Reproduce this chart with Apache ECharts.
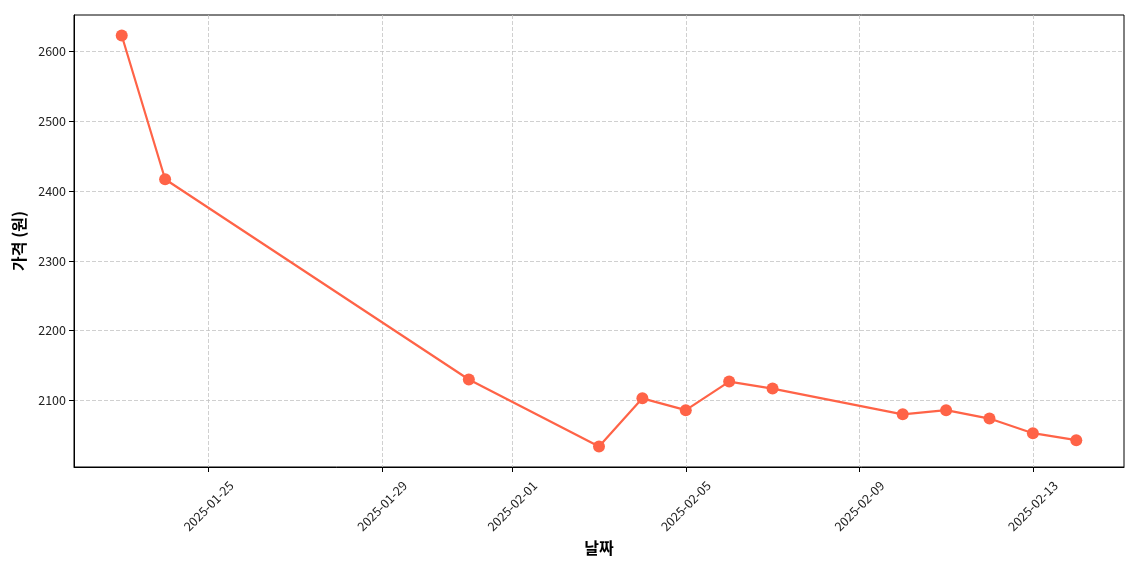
<!DOCTYPE html>
<html>
<head>
<meta charset="utf-8">
<script src="https://cdn.jsdelivr.net/npm/echarts@6/dist/echarts.min.js"></script>
<style>html,body{margin:0;padding:0;background:#fff}#c{width:1140px;height:570px}</style>
</head>
<body>
<div id="c"></div>
<script>
var dates = ['2025-01-23','2025-01-24','2025-01-31','2025-02-03','2025-02-04','2025-02-05','2025-02-06','2025-02-07','2025-02-10','2025-02-11','2025-02-12','2025-02-13','2025-02-14'];
var prices = [2623, 2417, 2130, 2034, 2103, 2086, 2127, 2117, 2080, 2086, 2074, 2053, 2043];
var xTicks = ['2025-01-25','2025-01-29','2025-02-01','2025-02-05','2025-02-09','2025-02-13'];
var yTicks = [2100, 2200, 2300, 2400, 2500, 2600];
var xTitle = '날짜';
var yTitle = '가격 (원)';

function ts(s){ return Date.parse(s + 'T00:00:00Z'); }
var tMin = ts(dates[0]), tMax = ts(dates[dates.length-1]);
var tPad = (tMax - tMin) * 0.05;
var pMin = Math.min.apply(null, prices), pMax = Math.max.apply(null, prices);
var pPad = (pMax - pMin) * 0.05;

function fmt(v){
  var d = new Date(v);
  var m = d.getUTCMonth()+1, dd = d.getUTCDate();
  return d.getUTCFullYear() + '-' + (m<10?'0':'') + m + '-' + (dd<10?'0':'') + dd;
}

var font = '"Noto Sans CJK KR", "Noto Sans", sans-serif';
var chart = echarts.init(document.getElementById('c'), null, {renderer:'canvas'});
chart.setOption({
  animation: false,
  grid: {left: 74, right: 16, top: 15, bottom: 103, show: true, borderColor: '#000', borderWidth: 1, containLabel: false},
  xAxis: {
    type: 'value',
    min: tMin - tPad, max: tMax + tPad,
    name: xTitle, nameLocation: 'middle', nameGap: 69,
    nameTextStyle: {fontFamily: font, fontSize: 16, fontWeight: 'bold', color: '#000'},
    axisLine: {show: true, onZero: false, lineStyle: {color: '#000', width: 1}},
    axisTick: {show: true, inside: false, length: 5, lineStyle: {color: '#000', width: 1}, customValues: xTicks.map(ts)},
    axisLabel: {customValues: xTicks.map(ts), rotate: 45, align: 'center', verticalAlign: 'middle', formatter: fmt, fontFamily: font, fontSize: 12.5, color: '#222', margin: 39},
    splitLine: {show: true, lineStyle: {color: '#c4c4c4', type: [4, 2], width: 0.8}}
  },
  yAxis: {
    type: 'value',
    min: pMin - pPad, max: pMax + pPad,
    name: yTitle, nameLocation: 'middle', nameGap: 44, nameRotate: 90,
    nameTextStyle: {fontFamily: font, fontSize: 16, fontWeight: 'bold', color: '#000'},
    axisLine: {show: true, lineStyle: {color: '#000', width: 1}},
    axisTick: {show: true, inside: false, length: 5, lineStyle: {color: '#000', width: 1}, customValues: yTicks},
    axisLabel: {customValues: yTicks, formatter: function(v){ return String(v); }, fontFamily: font, fontSize: 12.5, color: '#222', margin: 8},
    splitLine: {show: true, lineStyle: {color: '#c4c4c4', type: [4, 2], width: 0.8}}
  },
  series: [{
    type: 'line',
    data: dates.map(function(d, i){ return [ts(d), prices[i]]; }),
    symbol: 'circle', symbolSize: 12, showAllSymbol: true,
    lineStyle: {color: '#FF6347', width: 2.2},
    itemStyle: {color: '#FF6347'}
  }]
});
</script>
</body>
</html>
